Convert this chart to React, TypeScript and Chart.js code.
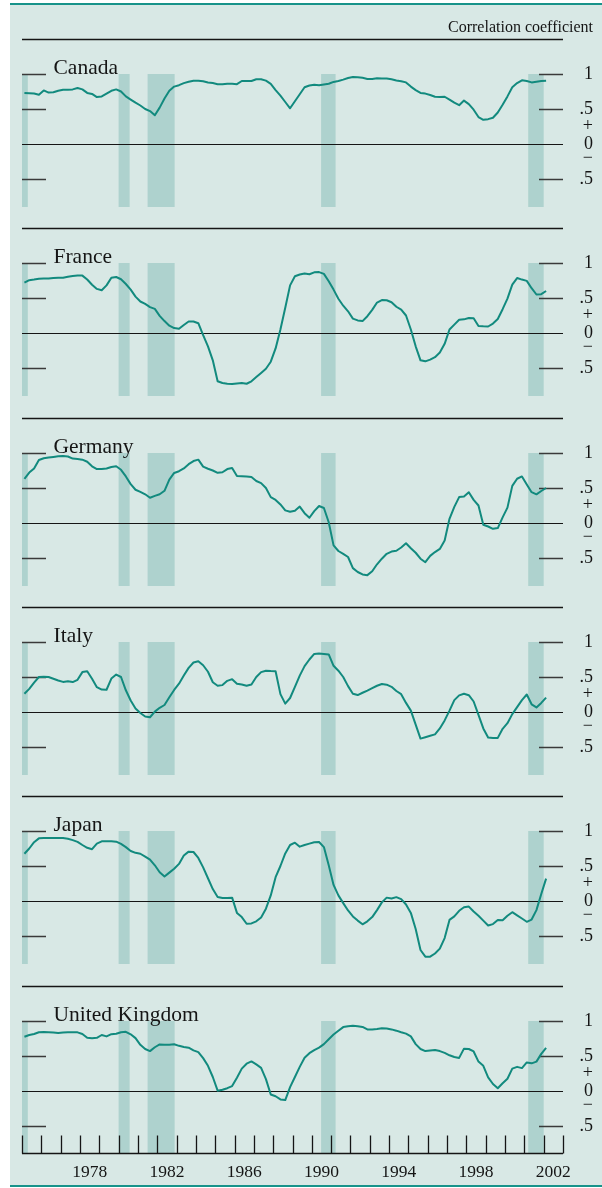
import React, { useEffect, useRef } from 'react';
import { Chart, registerables } from 'chart.js';

Chart.register(...registerables);

// ---------- data ----------
// quarterly observations, 1975 Q1 .. 2002 Q1 (time index in fractional years)
const quarters: number[] = Array.from({ length: 109 }, (_, i) => 1975.125 + i * 0.25);

const canada = [
  0.73, 0.725, 0.72, 0.705, 0.765, 0.735, 0.74, 0.76, 0.775, 0.775,
  0.78, 0.8, 0.78, 0.73, 0.715, 0.67, 0.68, 0.72, 0.76, 0.78,
  0.75, 0.68, 0.635, 0.59, 0.55, 0.5, 0.47, 0.41, 0.52, 0.65,
  0.76, 0.82, 0.84, 0.87, 0.89, 0.905, 0.905, 0.895, 0.88, 0.87,
  0.855, 0.852, 0.86, 0.86, 0.855, 0.9, 0.9, 0.9, 0.925, 0.925,
  0.905, 0.86, 0.77, 0.69, 0.6, 0.51, 0.61, 0.71, 0.81, 0.835,
  0.845, 0.84, 0.85, 0.86, 0.887, 0.9, 0.92, 0.943, 0.958, 0.953,
  0.945, 0.93, 0.93, 0.94, 0.937, 0.935, 0.925, 0.907, 0.897, 0.88,
  0.82, 0.77, 0.73, 0.72, 0.7, 0.675, 0.672, 0.675, 0.635, 0.59,
  0.555, 0.62, 0.57, 0.49, 0.385, 0.345, 0.355, 0.375, 0.45, 0.56,
  0.68, 0.81, 0.87, 0.91, 0.9, 0.88, 0.89, 0.9, 0.905,
];

const france = [
  0.72, 0.755, 0.763, 0.775, 0.777, 0.777, 0.785, 0.79, 0.79, 0.805,
  0.815, 0.82, 0.82, 0.765, 0.69, 0.63, 0.61, 0.68, 0.79, 0.8,
  0.768, 0.7, 0.62, 0.52, 0.45, 0.415, 0.37, 0.345, 0.245, 0.17,
  0.105, 0.07, 0.06, 0.115, 0.165, 0.165, 0.14, -0.03, -0.19, -0.39,
  -0.69, -0.715, -0.725, -0.73, -0.72, -0.715, -0.725, -0.69, -0.63, -0.57,
  -0.51, -0.41, -0.22, 0.05, 0.36, 0.68, 0.81, 0.835, 0.85, 0.84,
  0.867, 0.87, 0.845, 0.74, 0.62, 0.49, 0.39, 0.31, 0.205, 0.18,
  0.17, 0.24, 0.33, 0.435, 0.47, 0.468, 0.44, 0.375, 0.335, 0.25,
  0.05, -0.19, -0.39, -0.405, -0.38, -0.345, -0.28, -0.155, 0.05, 0.12,
  0.19, 0.195, 0.215, 0.212, 0.1, 0.095, 0.093, 0.135, 0.2, 0.34,
  0.49, 0.69, 0.785, 0.763, 0.745, 0.64, 0.55, 0.555, 0.6,
];

const germany = [
  0.63, 0.72, 0.78, 0.9, 0.925, 0.935, 0.943, 0.952, 0.956, 0.95,
  0.92, 0.915, 0.905, 0.875, 0.81, 0.77, 0.77, 0.778, 0.8, 0.81,
  0.76, 0.665, 0.555, 0.475, 0.445, 0.41, 0.36, 0.387, 0.41, 0.46,
  0.62, 0.715, 0.74, 0.78, 0.84, 0.885, 0.905, 0.805, 0.775, 0.75,
  0.717, 0.725, 0.77, 0.785, 0.67, 0.668, 0.663, 0.657, 0.6, 0.57,
  0.5, 0.37, 0.33, 0.265, 0.18, 0.16, 0.176, 0.235, 0.14, 0.075,
  0.17, 0.243, 0.215, 0.01, -0.32, -0.4, -0.44, -0.486, -0.645, -0.7,
  -0.735, -0.745, -0.69, -0.59, -0.51, -0.44, -0.408, -0.397, -0.35, -0.29,
  -0.36, -0.425, -0.51, -0.56, -0.47, -0.415, -0.37, -0.25, 0.06, 0.23,
  0.37, 0.378, 0.44, 0.33, 0.25, -0.025, -0.05, -0.083, -0.072, 0.08,
  0.22, 0.53, 0.632, 0.665, 0.55, 0.44, 0.41, 0.457, 0.5,
];

const italy = [
  0.26, 0.33, 0.42, 0.5, 0.502, 0.5, 0.475, 0.45, 0.43, 0.44,
  0.428, 0.46, 0.57, 0.583, 0.475, 0.355, 0.32, 0.318, 0.478, 0.535,
  0.5, 0.31, 0.165, 0.05, -0.015, -0.065, -0.075, 0.005, 0.06, 0.1,
  0.21, 0.315, 0.405, 0.52, 0.63, 0.707, 0.725, 0.668, 0.575, 0.425,
  0.375, 0.384, 0.445, 0.469, 0.405, 0.392, 0.374, 0.393, 0.5, 0.57,
  0.59, 0.585, 0.583, 0.255, 0.12, 0.2, 0.36, 0.52, 0.655, 0.75,
  0.83, 0.834, 0.83, 0.822, 0.66, 0.59, 0.5, 0.37, 0.26, 0.242,
  0.275, 0.305, 0.34, 0.375, 0.4, 0.39, 0.36, 0.3, 0.255, 0.13,
  0.02, -0.18, -0.38, -0.36, -0.34, -0.32, -0.235, -0.12, 0.02, 0.17,
  0.238, 0.26, 0.24, 0.15, -0.04, -0.235, -0.365, -0.37, -0.37, -0.24,
  -0.16, -0.03, 0.07, 0.17, 0.25, 0.11, 0.065, 0.13, 0.205,
];

const japan = [
  0.675, 0.75, 0.84, 0.895, 0.9, 0.9, 0.9, 0.9, 0.9, 0.89,
  0.87, 0.845, 0.8, 0.76, 0.74, 0.82, 0.852, 0.852, 0.852, 0.848,
  0.815, 0.77, 0.715, 0.688, 0.675, 0.635, 0.59, 0.51, 0.41, 0.35,
  0.405, 0.46, 0.53, 0.65, 0.705, 0.7, 0.615, 0.48, 0.325, 0.17,
  0.058, 0.043, 0.043, 0.048, -0.17, -0.23, -0.325, -0.32, -0.29, -0.235,
  -0.11, 0.08, 0.34, 0.5, 0.68, 0.8, 0.833, 0.776, 0.8, 0.82,
  0.84, 0.843, 0.77, 0.51, 0.23, 0.08, -0.03, -0.135, -0.22, -0.28,
  -0.333, -0.29, -0.23, -0.13, -0.02, 0.048, 0.035, 0.055, 0.026, -0.05,
  -0.17, -0.4, -0.7, -0.795, -0.795, -0.75, -0.68, -0.53, -0.27, -0.22,
  -0.14, -0.09, -0.08, -0.15, -0.21, -0.28, -0.35, -0.33, -0.27, -0.275,
  -0.21, -0.16, -0.205, -0.25, -0.297, -0.265, -0.13, 0.1, 0.32,
];

const unitedKingdom = [
  0.775, 0.8, 0.815, 0.84, 0.843, 0.84, 0.837, 0.83, 0.835, 0.84,
  0.84, 0.838, 0.815, 0.76, 0.755, 0.76, 0.8, 0.78, 0.812, 0.817,
  0.84, 0.845, 0.81, 0.755, 0.66, 0.6, 0.57, 0.625, 0.665, 0.662,
  0.662, 0.667, 0.645, 0.63, 0.618, 0.58, 0.556, 0.47, 0.36, 0.2,
  0.005, 0.017, 0.04, 0.07, 0.19, 0.32, 0.39, 0.423, 0.38, 0.33,
  0.17, -0.05, -0.075, -0.12, -0.13, 0.055, 0.2, 0.345, 0.475, 0.54,
  0.585, 0.62, 0.67, 0.74, 0.806, 0.86, 0.913, 0.925, 0.932, 0.925,
  0.915, 0.88, 0.88, 0.886, 0.897, 0.892, 0.88, 0.862, 0.84, 0.82,
  0.78, 0.67, 0.6, 0.57, 0.578, 0.585, 0.57, 0.545, 0.51, 0.485,
  0.473, 0.605, 0.6, 0.565, 0.42, 0.36, 0.195, 0.1, 0.04, 0.11,
  0.175, 0.32, 0.345, 0.327, 0.408, 0.395, 0.42, 0.53, 0.615,
];

const countries = ['Canada', 'France', 'Germany', 'Italy', 'Japan', 'United Kingdom'];
const seriesList = [canada, france, germany, italy, japan, unitedKingdom];

// shaded periods (recessions), fractional years
const shadeStarts = [1975.0, 1980.0, 1981.5, 1990.48, 2001.2];
const shadeEnds = [1975.3, 1980.57, 1982.9, 1991.23, 2002.0];

// axis ticks and labels
const yTickValues = [1, 0.5, -0.5];
const rightLabelValues = [1, 0.5, 0.26, 0, -0.21, -0.5];
const rightLabelTexts = ['1', '.5', '+', '0', '\u2212', '.5'];
const yearTicks: number[] = Array.from({ length: 29 }, (_, i) => 1975 + i);
const yearLabels = [1978, 1982, 1986, 1990, 1994, 1998, 2002];
const unitLabel = 'Correlation coefficient';

// ---------- layout / style ----------
const PAGE_W = 602;
const PAGE_H = 1188;
const PLOT_LEFT = 22;
const PLOT_RIGHT = 563;
const FIRST_SEP_Y = 39;
const PITCH = 189.3;
const PAD_TOP = 30;
const PANEL_H = 168;
const X_MIN = 1975;
const X_MAX = 2003;
const Y_MIN = -0.9;
const Y_MAX = 1.5;
const SHADE_TOP = 1;

const BG = '#d8e8e5';
const TEAL_RULE = '#17938a';
const SHADE = '#aed2ce';
const LINE = '#128a7e';
const INK = '#151515';
const TICK = '#3a3a3a';
const SERIF = '"Liberation Serif", "Times New Roman", Times, serif';

function makeDecor(index: number, isLast: boolean) {
  return {
    id: 'decor' + index,
    beforeDatasetsDraw(chart: any) {
      const { ctx, chartArea } = chart;
      const xs = chart.scales.x;
      const ys = chart.scales.y;
      const left = chartArea.left;
      const right = chartArea.right;
      ctx.save();

      // shaded periods
      ctx.fillStyle = SHADE;
      const yTop = ys.getPixelForValue(SHADE_TOP);
      const yBot = ys.getPixelForValue(Y_MIN);
      for (let i = 0; i < shadeStarts.length; i++) {
        const x0 = xs.getPixelForValue(shadeStarts[i]);
        const x1 = xs.getPixelForValue(shadeEnds[i]);
        ctx.fillRect(x0, yTop, x1 - x0, yBot - yTop);
      }

      // separator at top of panel
      ctx.strokeStyle = INK;
      ctx.lineWidth = 1.3;
      const ySep = Math.round(ys.getPixelForValue(Y_MAX)) + 0.5;
      ctx.beginPath();
      ctx.moveTo(left, ySep);
      ctx.lineTo(right, ySep);
      ctx.stroke();

      // zero line
      ctx.lineWidth = 1.2;
      const y0 = Math.round(ys.getPixelForValue(0)) + 0.5;
      ctx.beginPath();
      ctx.moveTo(left, y0);
      ctx.lineTo(right, y0);
      ctx.stroke();

      // short tick marks on both sides
      ctx.strokeStyle = TICK;
      ctx.lineWidth = 1.4;
      for (const v of yTickValues) {
        const yy = Math.round(ys.getPixelForValue(v)) + 0.5;
        ctx.beginPath();
        ctx.moveTo(left, yy);
        ctx.lineTo(left + 24, yy);
        ctx.moveTo(right - 24, yy);
        ctx.lineTo(right, yy);
        ctx.stroke();
      }

      // right-hand labels
      ctx.fillStyle = INK;
      ctx.font = '18px ' + SERIF;
      ctx.textAlign = 'right';
      ctx.textBaseline = 'middle';
      for (let i = 0; i < rightLabelValues.length; i++) {
        ctx.fillText(rightLabelTexts[i], 593, ys.getPixelForValue(rightLabelValues[i]));
      }

      // country name
      ctx.font = '21.5px ' + SERIF;
      ctx.textAlign = 'left';
      ctx.textBaseline = 'alphabetic';
      ctx.fillText(countries[index], 53.5, ys.getPixelForValue(1) - 0.5);

      if (index === 0) {
        ctx.font = '16px ' + SERIF;
        ctx.textAlign = 'right';
        ctx.fillText(unitLabel, 593, ys.getPixelForValue(Y_MAX) - 7);
      }

      if (isLast) {
        const yAxis = Math.round(ys.getPixelForValue(Y_MIN)) - 0.5;
        ctx.strokeStyle = INK;
        ctx.lineWidth = 1.5;
        ctx.beginPath();
        ctx.moveTo(left, yAxis);
        ctx.lineTo(right, yAxis);
        ctx.stroke();
        ctx.lineWidth = 1.3;
        ctx.beginPath();
        for (const yr of yearTicks) {
          const xx = Math.round(xs.getPixelForValue(yr)) + 0.5;
          ctx.moveTo(xx, yAxis);
          ctx.lineTo(xx, yAxis - 18);
        }
        ctx.stroke();
        ctx.fillStyle = INK;
        ctx.font = '17.5px ' + SERIF;
        ctx.textAlign = 'center';
        ctx.textBaseline = 'alphabetic';
        for (const yr of yearLabels) {
          ctx.fillText(String(yr), xs.getPixelForValue(yr + 0.5), yAxis + 23.5);
        }
      }
      ctx.restore();
    },
  };
}

function Panel({ index }: { index: number }) {
  const ref = useRef<HTMLCanvasElement>(null);
  const isLast = index === countries.length - 1;
  const sepY = Math.round(FIRST_SEP_Y + PITCH * index);
  const top = sepY - PAD_TOP;
  const height = isLast ? PAGE_H - top : PAD_TOP + PANEL_H + 6;

  useEffect(() => {
    const canvas = ref.current;
    if (!canvas) return;
    const values = seriesList[index];
    const chart = new Chart(canvas, {
      type: 'line',
      data: {
        datasets: [
          {
            label: countries[index],
            data: values.map((v, i) => ({ x: quarters[i], y: v })),
            borderColor: LINE,
            borderWidth: 2,
            pointRadius: 0,
            tension: 0,
            fill: false,
            borderJoinStyle: 'round',
          } as any,
        ],
      },
      options: {
        responsive: false,
        maintainAspectRatio: false,
        animation: false,
        events: [],
        devicePixelRatio: 1,
        layout: {
          padding: {
            left: PLOT_LEFT,
            right: PAGE_W - PLOT_RIGHT,
            top: PAD_TOP,
            bottom: height - PAD_TOP - PANEL_H,
          },
        },
        plugins: {
          legend: { display: false },
          tooltip: { enabled: false },
          title: { display: false },
        },
        scales: {
          x: { type: 'linear', min: X_MIN, max: X_MAX, display: false },
          y: { type: 'linear', min: Y_MIN, max: Y_MAX, display: false },
        },
      } as any,
      plugins: [makeDecor(index, isLast)],
    });
    return () => chart.destroy();
  }, [index, height, isLast]);

  return (
    <canvas
      ref={ref}
      width={PAGE_W}
      height={height}
      style={{ position: 'absolute', left: 0, top, width: PAGE_W, height, display: 'block' }}
    />
  );
}

export default function App() {
  return (
    <div
      style={{
        position: 'absolute',
        left: 0,
        top: 0,
        width: PAGE_W,
        height: PAGE_H,
        background: '#ffffff',
        overflow: 'hidden',
      }}
    >
      <div style={{ position: 'absolute', left: 10, top: 5, width: PAGE_W - 10, height: 1180, background: BG }} />
      <div style={{ position: 'absolute', left: 10, top: 3, width: PAGE_W - 10, height: 2, background: TEAL_RULE }} />
      <div style={{ position: 'absolute', left: 10, top: 1185, width: PAGE_W - 10, height: 2, background: TEAL_RULE }} />
      {countries.map((_, i) => (
        <Panel key={i} index={i} />
      ))}
    </div>
  );
}
